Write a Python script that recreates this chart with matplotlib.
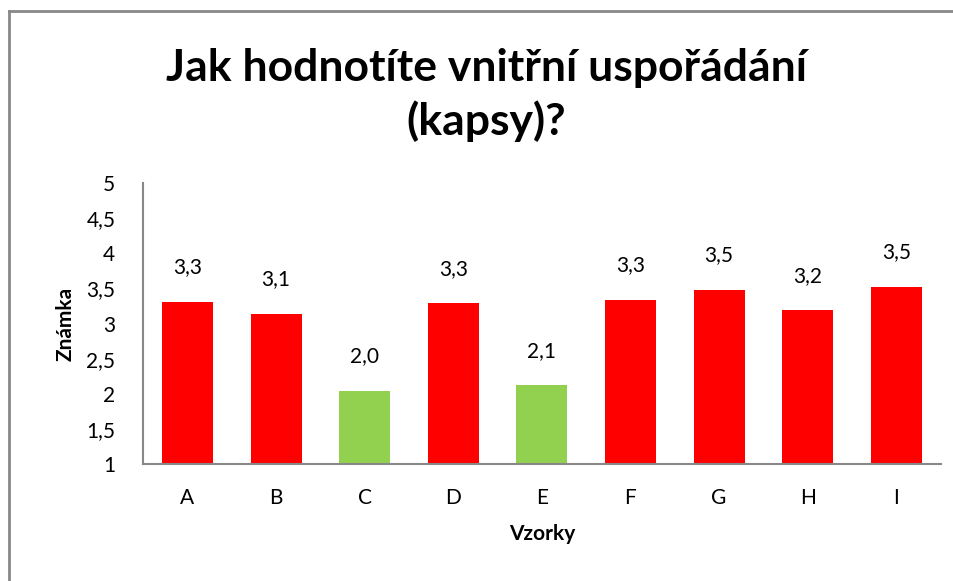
import matplotlib.pyplot as plt
from matplotlib.lines import Line2D

plt.rcParams['font.family'] = ['Lato', 'DejaVu Sans']

categories = ['A', 'B', 'C', 'D', 'E', 'F', 'G', 'H', 'I']
values = [3.31, 3.14, 2.04, 3.29, 2.12, 3.34, 3.48, 3.19, 3.52]
colors = ['#FF0000', '#FF0000', '#92D050', '#FF0000', '#92D050',
          '#FF0000', '#FF0000', '#FF0000', '#FF0000']
yticks = [1, 1.5, 2, 2.5, 3, 3.5, 4, 4.5, 5]

fig = plt.figure(figsize=(9.54, 5.81), dpi=100)
ax = fig.add_axes([0.15, 0.2014, 0.836, 0.4836])

x = range(len(categories))
ax.bar(x, [v - 1 for v in values], bottom=1, width=0.575, color=colors)
for i, v in enumerate(values):
    ax.text(i, v + 0.49, ('%.1f' % v).replace('.', ','), ha='center', va='center', fontsize=15)

ax.set_xlim(-0.5, len(categories) - 0.5)
ax.set_ylim(1, 5)
ax.set_xticks(list(x))
ax.set_xticklabels(categories, fontsize=15)
ax.set_yticks(yticks)
ax.set_yticklabels([('%g' % t).replace('.', ',') for t in yticks], fontsize=15)
ax.tick_params(length=0)
ax.tick_params(axis='y', pad=20)
ax.tick_params(axis='x', pad=17)
for s in ['top', 'right']:
    ax.spines[s].set_visible(False)
for s in ['left', 'bottom']:
    ax.spines[s].set_color('#888888')
    ax.spines[s].set_linewidth(1.5)

ax.set_xlabel('Vzorky', fontsize=15, fontweight='bold', labelpad=12)
ax.set_ylabel('Známka', fontsize=15, fontweight='bold', labelpad=8)

fig.text(0.51, 0.837, 'Jak hodnotíte vnitřní uspořádání\n(kapsy)?', ha='center', va='center',
         fontsize=32, fontweight='bold', linespacing=1.35)

# outer frame (left and top edges visible)
fig.add_artist(Line2D([0.0095, 0.0095], [0, 0.981], color='#888888', lw=2, transform=fig.transFigure))
fig.add_artist(Line2D([0.0095, 1], [0.981, 0.981], color='#888888', lw=2, transform=fig.transFigure))

plt.savefig('out.png')
